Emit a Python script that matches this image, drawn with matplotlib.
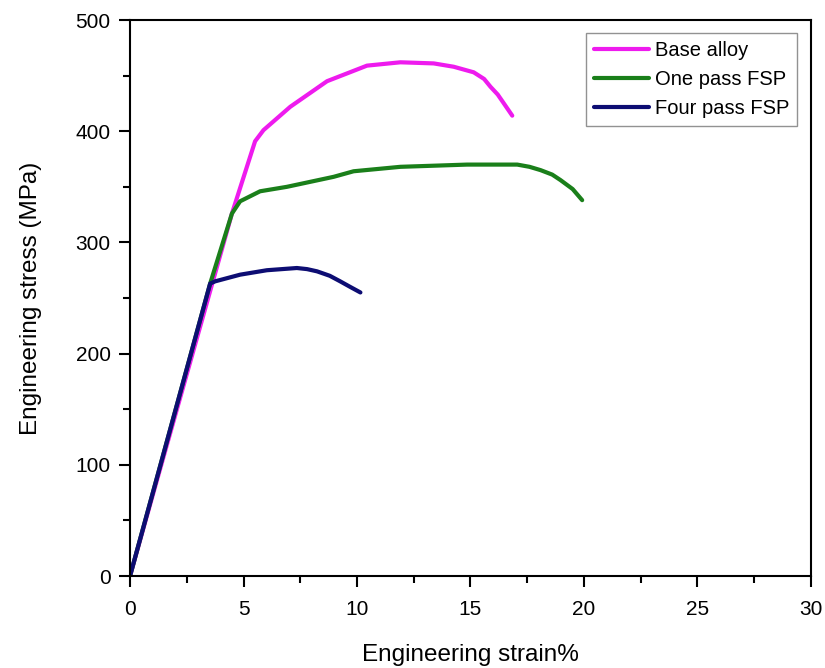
import matplotlib
matplotlib.use("Agg")
import matplotlib.pyplot as plt
from matplotlib.ticker import MultipleLocator

plt.rcParams['font.family'] = ['Liberation Sans', 'DejaVu Sans']

base_x = [0, 4.49, 5.51, 5.88, 7.06, 8.68, 9.56, 10.44, 11.91, 13.38, 14.26, 15.14, 15.6, 15.88, 16.2, 16.47, 16.84]
base_y = [0, 326, 391, 401, 422, 445, 452, 459, 462, 461, 458, 453, 447, 440, 433, 425, 414]

one_x = [0, 3.53, 4.49, 4.85, 5.73, 6.91, 8.97, 9.85, 11.91, 14.85, 17.06, 17.6, 18.09, 18.6, 18.97, 19.5, 19.92]
one_y = [0, 263, 326, 337, 346, 350, 359, 364, 368, 370, 370, 368, 365, 361, 356, 348, 338]

four_x = [0, 3.53, 3.75, 4.85, 6.03, 7.35, 7.8, 8.24, 8.8, 9.26, 9.7, 10.15]
four_y = [0, 263, 265, 271, 275, 277, 276, 274, 270, 265, 260, 255]

labels = ["Base alloy", "One pass FSP", "Four pass FSP"]
colors = ["#ee1bee", "#1a7f1a", "#0d0d73"]

fig = plt.figure(figsize=(8.25, 6.68), dpi=100)
ax = fig.add_axes([0.1576, 0.1377, 0.8254, 0.8323])

ax.plot(base_x, base_y, color=colors[0], lw=3, label=labels[0], solid_capstyle='round', solid_joinstyle='round')
ax.plot(one_x, one_y, color=colors[1], lw=3, label=labels[1], solid_capstyle='round', solid_joinstyle='round')
ax.plot(four_x, four_y, color=colors[2], lw=3, label=labels[2], solid_capstyle='round', solid_joinstyle='round')

ax.set_xlim(0, 30)
ax.set_ylim(0, 500)
ax.xaxis.set_major_locator(MultipleLocator(5))
ax.xaxis.set_minor_locator(MultipleLocator(2.5))
ax.yaxis.set_major_locator(MultipleLocator(100))
ax.yaxis.set_minor_locator(MultipleLocator(50))
ax.tick_params(which='both', direction='out', width=1.5, top=False, right=False)
ax.tick_params(which='major', length=8, labelsize=15)
ax.tick_params(axis='x', which='major', pad=9)
ax.tick_params(axis='y', which='major', pad=6)
ax.tick_params(which='minor', length=5)
for s in ax.spines.values():
    s.set_linewidth(1.5)

ax.set_xlabel("Engineering strain%", fontsize=17.5, labelpad=18)
ax.set_ylabel("Engineering stress (MPa)", fontsize=17.5, labelpad=24)

leg = ax.legend(loc='upper right', bbox_to_anchor=(0.9795, 0.977), fontsize=14.5,
                frameon=True, fancybox=False, edgecolor='#777777', handlelength=2.7,
                borderpad=0.4, labelspacing=0.5, handletextpad=0.3, borderaxespad=0)
leg.get_frame().set_linewidth(1.0)

fig.savefig("out.png", dpi=100)
